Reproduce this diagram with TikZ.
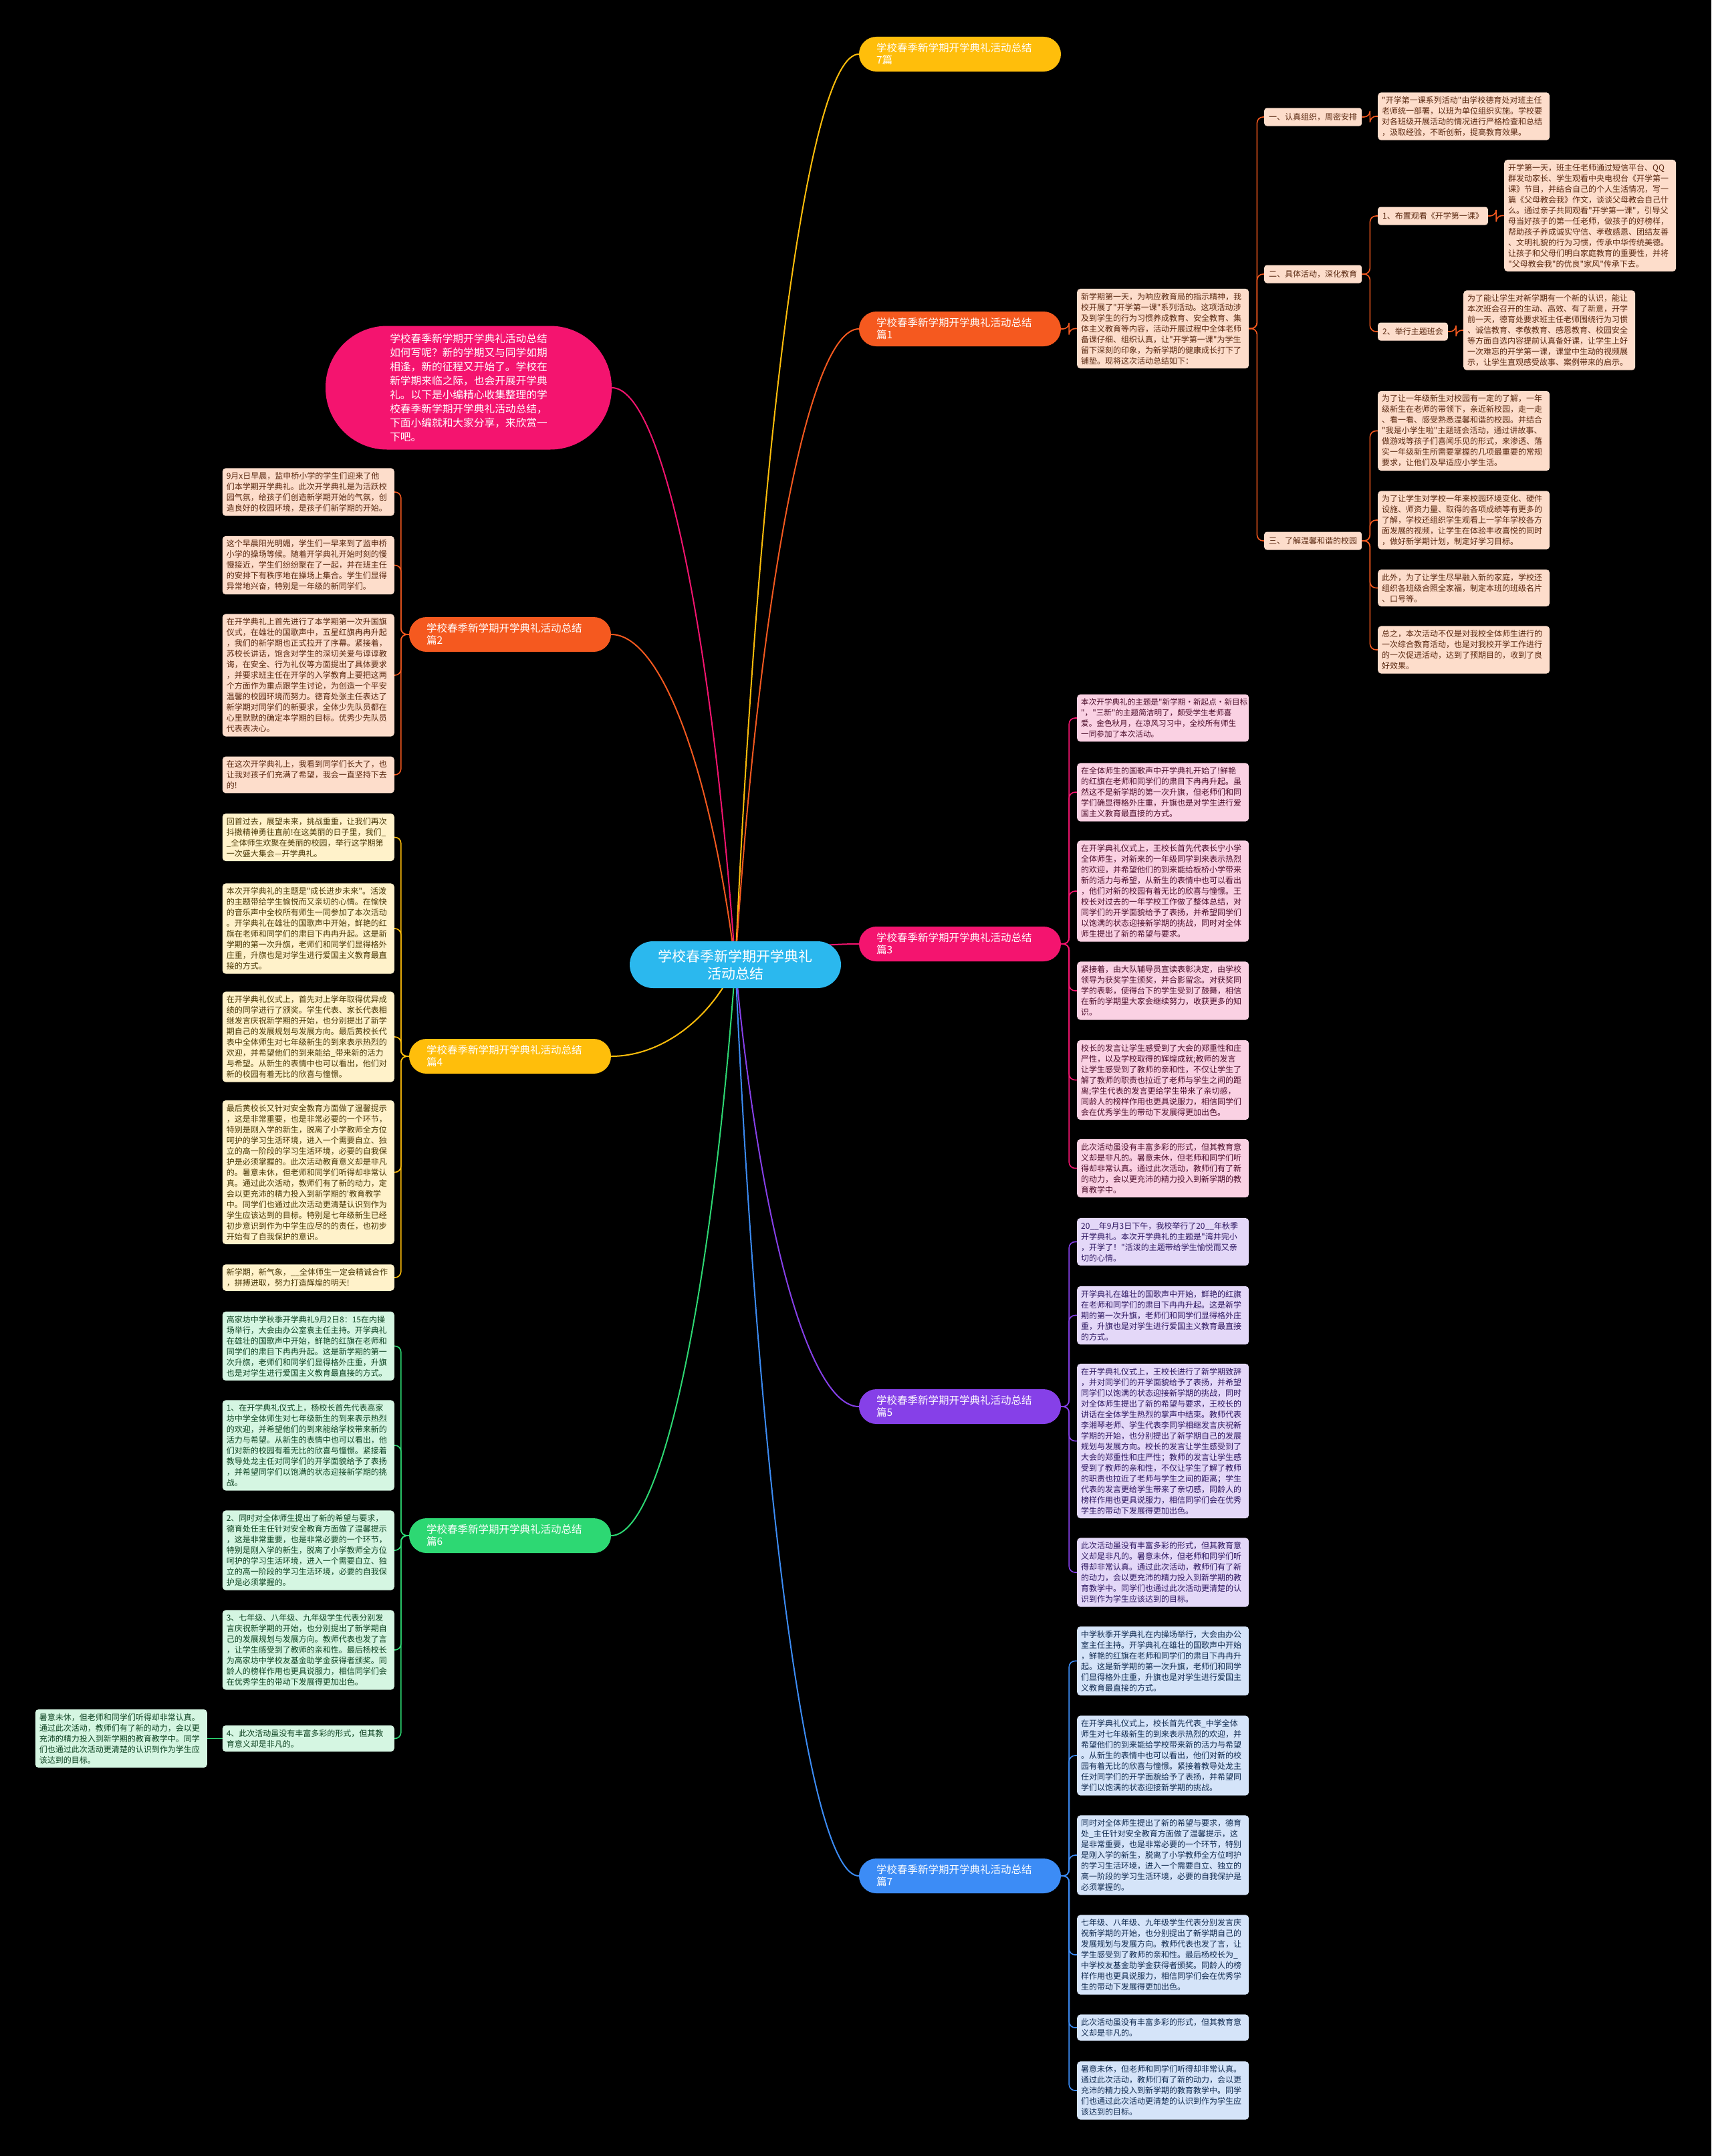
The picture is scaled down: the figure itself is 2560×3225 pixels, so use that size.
\documentclass[tikz,border=0pt]{standalone}
\usepackage{fontspec}
\newfontfamily\cjk{Noto Sans CJK SC}
\usetikzlibrary{calc}
\pgfdeclarelayer{bg}\pgfdeclarelayer{lines}
\pgfsetlayers{bg,lines,main}
\definecolor{cOr}{HTML}{F5591F}\definecolor{cOrL}{HTML}{FDDDCB}\definecolor{cOrT}{HTML}{5A2810}
\definecolor{cYe}{HTML}{FFBE0B}\definecolor{cYeL}{HTML}{FFF2CA}\definecolor{cYeT}{HTML}{4A3806}
\definecolor{cPk}{HTML}{F4146F}\definecolor{cPkL}{HTML}{FAD1E3}\definecolor{cPkT}{HTML}{4D0E2B}
\definecolor{cPu}{HTML}{8640E8}\definecolor{cPuL}{HTML}{E4D8F8}\definecolor{cPuT}{HTML}{2C1660}
\definecolor{cGr}{HTML}{2DD873}\definecolor{cGrL}{HTML}{D5F6E2}\definecolor{cGrT}{HTML}{0F4422}
\definecolor{cBl}{HTML}{3C8CF6}\definecolor{cBlL}{HTML}{D5E4F9}\definecolor{cBlT}{HTML}{102A50}
\definecolor{cCy}{HTML}{2BB8EE}
\tikzset{
 leaf/.style={rectangle, rounded corners=5pt, text width=245pt, inner xsep=6pt, inner ysep=6pt, align=left, font=\cjk\fontsize{12}{16}\selectfont},
 lor/.style={leaf, fill=cOrL, text=cOrT},
 lye/.style={leaf, fill=cYeL, text=cYeT},
 lpk/.style={leaf, fill=cPkL, text=cPkT},
 lpu/.style={leaf, fill=cPuL, text=cPuT},
 lgr/.style={leaf, fill=cGrL, text=cGrT},
 lbl/.style={leaf, fill=cBlL, text=cBlT},
 subbox/.style={rectangle, rounded corners=4pt, minimum height=27pt, inner xsep=7pt, fill=cOrL, text=cOrT, font=\cjk\fontsize{12}{16}\selectfont},
 pill/.style={rectangle, rounded corners=26pt, minimum height=52pt, text width=250pt, inner xsep=26pt, align=left, text=white, font=\cjk\fontsize{15.5}{18}\selectfont}
}
\newcommand\mmcurve[3]{\draw[#1,line width=2pt] let \p1=(#2), \p2=(#3) in (\p1) .. controls ({\x1+0.2*(\x2-\x1)},{\y1+0.6*(\y2-\y1)}) and ({\x1+0.6*(\x2-\x1)},{\y2}) .. (\p2);}
\newcommand\rk[3]{\draw[#1,line width=1.6pt,rounded corners=9pt] (#2.east) -- ++(12,0) |- (#3.west);}
\newcommand\lk[3]{\draw[#1,line width=1.6pt,rounded corners=9pt] (#2.west) -- ++(-12,0) |- (#3.east);}
\begin{document}
\begin{tikzpicture}[x=1pt,y=-1pt]
\begin{pgfonlayer}{bg}
\fill[black] (0,0) rectangle (2560,3225);
\end{pgfonlayer}
\useasboundingbox (0,0) rectangle (2560,3225);

% center
\node[rectangle, rounded corners=35pt, fill=cCy, minimum width=316pt, minimum height=70pt, align=center, text=white, font=\cjk\fontsize{21}{26}\selectfont] (ctr) at (1100,1443) {学校春季新学期开学典礼\\活动总结};

% intro
\node[rectangle, rounded corners=92pt, fill=cPk, minimum width=428pt, minimum height=185pt, align=left, text=white, font=\cjk\fontsize{15.7}{21}\selectfont] (intro) at (701,580) {学校春季新学期开学典礼活动总结\\如何写呢？新的学期又与同学如期\\相逢，新的征程又开始了。学校在\\新学期来临之际，也会开展开学典\\礼。以下是小编精心收集整理的学\\校春季新学期开学典礼活动总结，\\下面小编就和大家分享，来欣赏一\\下吧。};

% branch pills
\node[pill, fill=cYe] (b0) at (1436,81) {学校春季新学期开学典礼活动总结\\7篇};
\node[pill, fill=cOr] (b1) at (1436,492) {学校春季新学期开学典礼活动总结\\篇1};
\node[pill, fill=cOr] (b2) at (763,949) {学校春季新学期开学典礼活动总结\\篇2};
\node[pill, fill=cPk] (b3) at (1436,1412) {学校春季新学期开学典礼活动总结\\篇3};
\node[pill, fill=cYe] (b4) at (763,1580) {学校春季新学期开学典礼活动总结\\篇4};
\node[pill, fill=cPu] (b5) at (1436,2104) {学校春季新学期开学典礼活动总结\\篇5};
\node[pill, fill=cGr] (b6) at (763,2297) {学校春季新学期开学典礼活动总结\\篇6};
\node[pill, fill=cBl] (b7) at (1436,2806) {学校春季新学期开学典礼活动总结\\篇7};

% ---- 篇1
\node[lor, anchor=west] (p1) at (1611,491.5) {新学期第一天，为响应教育局的指示精神，我\\校开展了"开学第一课"系列活动。这项活动涉\\及到学生的行为习惯养成教育、安全教育、集\\体主义教育等内容，活动开展过程中全体老师\\备课仔细、组织认真，让"开学第一课"为学生\\留下深刻的印象，为新学期的健康成长打下了\\铺垫。现将这次活动总结如下：};
\node[subbox, anchor=west] (s1) at (1891,175) {一、认真组织，周密安排};
\node[subbox, anchor=west] (s2) at (1891,410) {二、具体活动，深化教育};
\node[subbox, anchor=west] (s3) at (1891,809) {三、了解温馨和谐的校园};
\node[lor, anchor=west] (s1a) at (2061,174) {"开学第一课系列活动"由学校德育处对班主任\\老师统一部署，以班为单位组织实施。学校要\\对各班级开展活动的情况进行严格检查和总结\\，汲取经验，不断创新，提高教育效果。};
\node[subbox, anchor=west] (s21) at (2061,323) {1、布置观看《开学第一课》};
\node[subbox, anchor=west] (s22) at (2061,496) {2、举行主题班会};
\node[lor, anchor=west] (s21a) at (2250,322.5) {开学第一天，班主任老师通过短信平台、QQ\\群发动家长、学生观看中央电视台《开学第一\\课》节目，并结合自己的个人生活情况，写一\\篇《父母教会我》作文，谈谈父母教会自己什\\么。通过亲子共同观看"开学第一课"，引导父\\母当好孩子的第一任老师，做孩子的好榜样，\\帮助孩子养成诚实守信、孝敬感恩、团结友善\\、文明礼貌的行为习惯，传承中华传统美德。\\让孩子和父母们明白家庭教育的重要性，并将\\"父母教会我"的优良"家风"传承下去。};
\node[lor, anchor=west] (s22a) at (2189,494) {为了能让学生对新学期有一个新的认识，能让\\本次班会召开的生动、高效、有了新意，开学\\前一天，德育处要求班主任老师围绕行为习惯\\、诚信教育、孝敬教育、感恩教育、校园安全\\等方面自选内容提前认真备好课，让学生上好\\一次难忘的开学第一课，课堂中生动的视频展\\示，让学生直观感受故事、案例带来的启示。};
\node[lor, anchor=west] (s3a) at (2061,644.5) {为了让一年级新生对校园有一定的了解，一年\\级新生在老师的带领下，亲近新校园，走一走\\、看一看、感受熟悉温馨和谐的校园。并结合\\"我是小学生啦"主题班会活动，通过讲故事、\\做游戏等孩子们喜闻乐见的形式，来渗透、落\\实一年级新生所需要掌握的几项最重要的常规\\要求，让他们及早适应小学生活。};
\node[lor, anchor=west] (s3b) at (2061,778) {为了让学生对学校一年来校园环境变化、硬件\\设施、师资力量、取得的各项成绩等有更多的\\了解，学校还组织学生观看上一学年学校各方\\面发展的视频，让学生在体验丰收喜悦的同时\\，做好新学期计划，制定好学习目标。};
\node[lor, anchor=west] (s3c) at (2061,879.5) {此外，为了让学生尽早融入新的家庭，学校还\\组织各班级合照全家福，制定本班的班级名片\\、口号等。};
\node[lor, anchor=west] (s3d) at (2061,972) {总之，本次活动不仅是对我校全体师生进行的\\一次综合教育活动，也是对我校开学工作进行\\的一次促进活动，达到了预期目的，收到了良\\好效果。};

% ---- 篇2
\node[lor, anchor=east] (p2a) at (590,736) {9月x日早晨，监申桥小学的学生们迎来了他\\们本学期开学典礼。此次开学典礼是为活跃校\\园气氛，给孩子们创造新学期开始的气氛，创\\造良好的校园环境，是孩子们新学期的开始。};
\node[lor, anchor=east] (p2b) at (590,845.5) {这个早晨阳光明媚，学生们一早来到了监申桥\\小学的操场等候。随着开学典礼开始时刻的慢\\慢接近，学生们纷纷聚在了一起，并在班主任\\的安排下有秩序地在操场上集合。学生们显得\\异常地兴奋，特别是一年级的新同学们。};
\node[lor, anchor=east] (p2c) at (590,1010) {在开学典礼上首先进行了本学期第一次升国旗\\仪式，在雄壮的国歌声中，五星红旗冉冉升起\\，我们的新学期也正式拉开了序幕。紧接着，\\苏校长讲话，饱含对学生的深切关爱与谆谆教\\诲，在安全、行为礼仪等方面提出了具体要求\\，并要求班主任在开学的入学教育上要把这两\\个方面作为重点跟学生讨论，为创造一个平安\\温馨的校园环境而努力。德育处张主任表达了\\新学期对同学们的新要求，全体少先队员都在\\心里默默的确定本学期的目标。优秀少先队员\\代表表决心。};
\node[lor, anchor=east] (p2d) at (590,1159) {在这次开学典礼上，我看到同学们长大了，也\\让我对孩子们充满了希望，我会一直坚持下去\\的!};

% ---- 篇3
\node[lpk, anchor=west, font=\cjk\fontsize{11.6}{16}\selectfont] (p3a) at (1611,1074) {本次开学典礼的主题是"新学期·新起点·新目标\\"，"三新"的主题简洁明了，颇受学生老师喜\\爱。金色秋月，在凉风习习中，全校所有师生\\一同参加了本次活动。};
\node[lpk, anchor=west] (p3b) at (1611,1185) {在全体师生的国歌声中开学典礼开始了!鲜艳\\的红旗在老师和同学们的肃目下冉冉升起。虽\\然这不是新学期的第一次升旗，但老师们和同\\学们确显得格外庄重，升旗也是对学生进行爱\\国主义教育最直接的方式。};
\node[lpk, anchor=west] (p3c) at (1611,1333) {在开学典礼仪式上，王校长首先代表长宁小学\\全体师生，对新来的一年级同学到来表示热烈\\的欢迎，并希望他们的到来能给板桥小学带来\\新的活力与希望，从新生的表情中也可以看出\\，他们对新的校园有着无比的欣喜与憧憬。王\\校长对过去的一年学校工作做了整体总结，对\\同学们的开学面貌给予了表扬，并希望同学们\\以饱满的状态迎接新学期的挑战，同时对全体\\师生提出了新的希望与要求。};
\node[lpk, anchor=west] (p3d) at (1611,1482) {紧接着，由大队辅导员宣读表彰决定，由学校\\领导为获奖学生颁奖，并合影留念。对获奖同\\学的表彰，使得台下的学生受到了鼓舞，相信\\在新的学期里大家会继续努力，收获更多的知\\识。};
\node[lpk, anchor=west] (p3e) at (1611,1615.5) {校长的发言让学生感受到了大会的郑重性和庄\\严性，以及学校取得的辉煌成就;教师的发言\\让学生感受到了教师的亲和性，不仅让学生了\\解了教师的职责也拉近了老师与学生之间的距\\离;学生代表的发言更给学生带来了亲切感，\\同龄人的榜样作用也更具说服力，相信同学们\\会在优秀学生的带动下发展得更加出色。};
\node[lpk, anchor=west] (p3f) at (1611,1747.5) {此次活动虽没有丰富多彩的形式，但其教育意\\义却是非凡的。暑意未休，但老师和同学们听\\得却非常认真。通过此次活动，教师们有了新\\的动力，会以更充沛的精力投入到新学期的教\\育教学中。};

% ---- 篇4
\node[lye, anchor=east] (p4a) at (590,1252.5) {回首过去，展望未来，挑战重重，让我们再次\\抖擞精神勇往直前!在这美丽的日子里，我们\_\\\_全体师生欢聚在美丽的校园，举行这学期第\\一次盛大集会—开学典礼。};
\node[lye, anchor=east] (p4b) at (590,1389) {本次开学典礼的主题是"成长进步未来"。活泼\\的主题带给学生愉悦而又亲切的心情。在愉快\\的音乐声中全校所有师生一同参加了本次活动\\。开学典礼在雄壮的国歌声中开始，鲜艳的红\\旗在老师和同学们的肃目下冉冉升起。这是新\\学期的第一次升旗，老师们和同学们显得格外\\庄重，升旗也是对学生进行爱国主义教育最直\\接的方式。};
\node[lye, anchor=east] (p4c) at (590,1551) {在开学典礼仪式上，首先对上学年取得优异成\\绩的同学进行了颁奖。学生代表、家长代表相\\继发言庆祝新学期的开始，也分别提出了新学\\期自己的发展规划与发展方向。最后黄校长代\\表中全体师生对七年级新生的到来表示热烈的\\欢迎，并希望他们的到来能给\_带来新的活力\\与希望。从新生的表情中也可以看出，他们对\\新的校园有着无比的欣喜与憧憬。};
\node[lye, anchor=east] (p4d) at (590,1753.5) {最后黄校长又针对安全教育方面做了温馨提示\\，这是非常重要，也是非常必要的一个环节，\\特别是刚入学的新生，脱离了小学教师全方位\\呵护的学习生活环境，进入一个需要自立、独\\立的高一阶段的学习生活环境，必要的自我保\\护是必须掌握的。此次活动教育意义却是非凡\\的。暑意未休，但老师和同学们听得却非常认\\真。通过此次活动，教师们有了新的动力，定\\会以更充沛的精力投入到新学期的'教育教学\\中。同学们也通过此次活动更清楚认识到作为\\学生应该达到的目标。特别是七年级新生已经\\初步意识到作为中学生应尽的的责任，也初步\\开始有了自我保护的意识。};
\node[lye, anchor=east] (p4e) at (590,1911) {新学期，新气象，\_\_全体师生一定会精诚合作\\，拼搏进取，努力打造辉煌的明天!};

% ---- 篇5
\node[lpu, anchor=west] (p5a) at (1611,1857.5) {20\_\_年9月3日下午，我校举行了20\_\_年秋季\\开学典礼。本次开学典礼的主题是"湾井完小\\，开学了！"活泼的主题带给学生愉悦而又亲\\切的心情。};
\node[lpu, anchor=west] (p5b) at (1611,1967.5) {开学典礼在雄壮的国歌声中开始，鲜艳的红旗\\在老师和同学们的肃目下冉冉升起。这是新学\\期的第一次升旗，老师们和同学们显得格外庄\\重，升旗也是对学生进行爱国主义教育最直接\\的方式。};
\node[lpu, anchor=west] (p5c) at (1611,2155.5) {在开学典礼仪式上，王校长进行了新学期致辞\\，并对同学们的开学面貌给予了表扬，并希望\\同学们以饱满的状态迎接新学期的挑战，同时\\对全体师生提出了新的希望与要求，王校长的\\讲话在全体学生热烈的掌声中结束。教师代表\\李湘琴老师、学生代表李同学相继发言庆祝新\\学期的开始，也分别提出了新学期自己的发展\\规划与发展方向。校长的发言让学生感受到了\\大会的郑重性和庄严性；教师的发言让学生感\\受到了教师的亲和性，不仅让学生了解了教师\\的职责也拉近了老师与学生之间的距离；学生\\代表的发言更给学生带来了亲切感，同龄人的\\榜样作用也更具说服力，相信同学们会在优秀\\学生的带动下发展得更加出色。};
\node[lpu, anchor=west] (p5d) at (1611,2352) {此次活动虽没有丰富多彩的形式，但其教育意\\义却是非凡的。暑意未休，但老师和同学们听\\得却非常认真。通过此次活动，教师们有了新\\的动力，会以更充沛的精力投入到新学期的教\\育教学中。同学们也通过此次活动更清楚的认\\识到作为学生应该达到的目标。};

% ---- 篇6
\node[lgr, anchor=east] (p6a) at (590,2013.5) {高家坊中学秋季开学典礼9月2日8：15在内操\\场举行，大会由办公室袁主任主持。开学典礼\\在雄壮的国歌声中开始，鲜艳的红旗在老师和\\同学们的肃目下冉冉升起。这是新学期的第一\\次升旗，老师们和同学们显得格外庄重，升旗\\也是对学生进行爱国主义教育最直接的方式。};
\node[lgr, anchor=east] (p6b) at (590,2162) {1、在开学典礼仪式上，杨校长首先代表高家\\坊中学全体师生对七年级新生的到来表示热烈\\的欢迎，并希望他们的到来能给学校带来新的\\活力与希望。从新生的表情中也可以看出，他\\们对新的校园有着无比的欣喜与憧憬。紧接着\\教导处龙主任对同学们的开学面貌给予了表扬\\，并希望同学们以饱满的状态迎接新学期的挑\\战。};
\node[lgr, anchor=east] (p6c) at (590,2319) {2、同时对全体师生提出了新的希望与要求，\\德育处任主任针对安全教育方面做了温馨提示\\，这是非常重要，也是非常必要的一个环节，\\特别是刚入学的新生，脱离了小学教师全方位\\呵护的学习生活环境，进入一个需要自立、独\\立的高一阶段的学习生活环境，必要的自我保\\护是必须掌握的。};
\node[lgr, anchor=east] (p6d) at (590,2468) {3、七年级、八年级、九年级学生代表分别发\\言庆祝新学期的开始，也分别提出了新学期自\\己的发展规划与发展方向。教师代表也发了言\\，让学生感受到了教师的亲和性。最后杨校长\\为高家坊中学校友基金助学金获得者颁奖。同\\龄人的榜样作用也更具说服力，相信同学们会\\在优秀学生的带动下发展得更加出色。};
\node[lgr, anchor=east] (p6e) at (590,2600.5) {4、此次活动虽没有丰富多彩的形式，但其教\\育意义却是非凡的。};
\node[lgr, anchor=east] (p6f) at (310,2600.5) {暑意未休，但老师和同学们听得却非常认真。\\通过此次活动，教师们有了新的动力，会以更\\充沛的精力投入到新学期的教育教学中。同学\\们也通过此次活动更清楚的认识到作为学生应\\该达到的目标。};

% ---- 篇7
\node[lbl, anchor=west] (p7a) at (1611,2484.5) {中学秋季开学典礼在内操场举行，大会由办公\\室主任主持。开学典礼在雄壮的国歌声中开始\\，鲜艳的红旗在老师和同学们的肃目下冉冉升\\起。这是新学期的第一次升旗，老师们和同学\\们显得格外庄重，升旗也是对学生进行爱国主\\义教育最直接的方式。};
\node[lbl, anchor=west] (p7b) at (1611,2626) {在开学典礼仪式上，校长首先代表\_中学全体\\师生对七年级新生的到来表示热烈的欢迎，并\\希望他们的到来能给学校带来新的活力与希望\\。从新生的表情中也可以看出，他们对新的校\\园有着无比的欣喜与憧憬。紧接着教导处龙主\\任对同学们的开学面貌给予了表扬，并希望同\\学们以饱满的状态迎接新学期的挑战。};
\node[lbl, anchor=west] (p7c) at (1611,2775) {同时对全体师生提出了新的希望与要求，德育\\处\_主任针对安全教育方面做了温馨提示，这\\是非常重要，也是非常必要的一个环节，特别\\是刚入学的新生，脱离了小学教师全方位呵护\\的学习生活环境，进入一个需要自立、独立的\\高一阶段的学习生活环境，必要的自我保护是\\必须掌握的。};
\node[lbl, anchor=west] (p7d) at (1611,2924) {七年级、八年级、九年级学生代表分别发言庆\\祝新学期的开始，也分别提出了新学期自己的\\发展规划与发展方向。教师代表也发了言，让\\学生感受到了教师的亲和性。最后杨校长为\_\\中学校友基金助学金获得者颁奖。同龄人的榜\\样作用也更具说服力，相信同学们会在优秀学\\生的带动下发展得更加出色。};
\node[lbl, anchor=west] (p7e) at (1611,3033) {此次活动虽没有丰富多彩的形式，但其教育意\\义却是非凡的。};
\node[lbl, anchor=west] (p7f) at (1611,3127) {暑意未休，但老师和同学们听得却非常认真。\\通过此次活动，教师们有了新的动力，会以更\\充沛的精力投入到新学期的教育教学中。同学\\们也通过此次活动更清楚的认识到作为学生应\\该达到的目标。};

\begin{pgfonlayer}{lines}
\mmcurve{cPk}{ctr.center}{intro.east}
\mmcurve{cOr}{ctr.center}{b2.east}
\mmcurve{cYe}{ctr.center}{b4.east}
\mmcurve{cGr}{ctr.center}{b6.east}
\mmcurve{cYe}{ctr.center}{b0.west}
\mmcurve{cOr}{ctr.center}{b1.west}
\mmcurve{cPk}{ctr.center}{b3.west}
\mmcurve{cPu}{ctr.center}{b5.west}
\mmcurve{cBl}{ctr.center}{b7.west}
% 篇1
\rk{cOr}{b1}{p1}
\rk{cOr}{p1}{s1}\rk{cOr}{p1}{s2}\rk{cOr}{p1}{s3}
\rk{cOr}{s1}{s1a}
\rk{cOr}{s2}{s21}\rk{cOr}{s2}{s22}
\rk{cOr}{s21}{s21a}\rk{cOr}{s22}{s22a}
\rk{cOr}{s3}{s3a}\rk{cOr}{s3}{s3b}\rk{cOr}{s3}{s3c}\rk{cOr}{s3}{s3d}
% 篇2
\lk{cOr}{b2}{p2a}\lk{cOr}{b2}{p2b}\lk{cOr}{b2}{p2c}\lk{cOr}{b2}{p2d}
% 篇3
\rk{cPk}{b3}{p3a}\rk{cPk}{b3}{p3b}\rk{cPk}{b3}{p3c}\rk{cPk}{b3}{p3d}\rk{cPk}{b3}{p3e}\rk{cPk}{b3}{p3f}
% 篇4
\lk{cYe}{b4}{p4a}\lk{cYe}{b4}{p4b}\lk{cYe}{b4}{p4c}\lk{cYe}{b4}{p4d}\lk{cYe}{b4}{p4e}
% 篇5
\rk{cPu}{b5}{p5a}\rk{cPu}{b5}{p5b}\rk{cPu}{b5}{p5c}\rk{cPu}{b5}{p5d}
% 篇6
\lk{cGr}{b6}{p6a}\lk{cGr}{b6}{p6b}\lk{cGr}{b6}{p6c}\lk{cGr}{b6}{p6d}\lk{cGr}{b6}{p6e}
\draw[cGr,line width=1.6pt] (p6e.west) -- (p6f.east);
% 篇7
\rk{cBl}{b7}{p7a}\rk{cBl}{b7}{p7b}\rk{cBl}{b7}{p7c}\rk{cBl}{b7}{p7d}\rk{cBl}{b7}{p7e}\rk{cBl}{b7}{p7f}
\end{pgfonlayer}
\end{tikzpicture}
\end{document}
